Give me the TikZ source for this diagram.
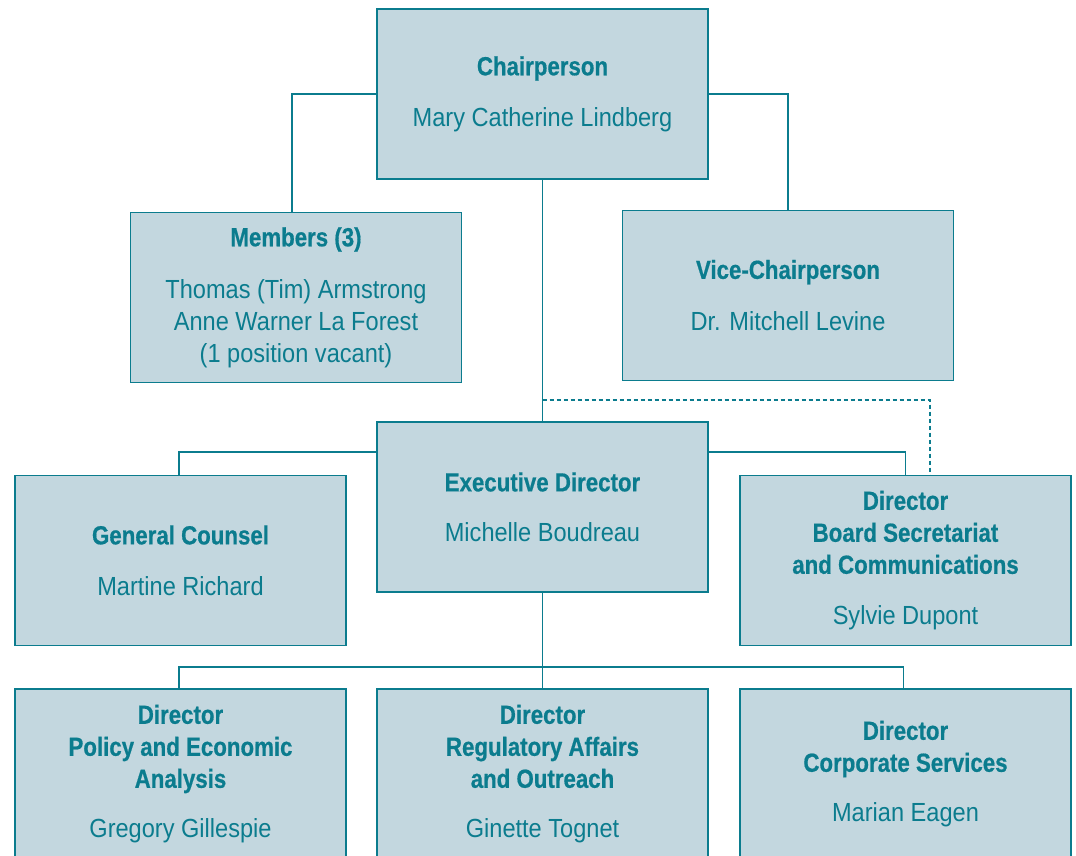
\documentclass[tikz,border=0pt]{standalone}
\usepackage{fontspec}
\setmainfont{Liberation Sans}[FakeStretch=0.9,BoldFeatures={FakeStretch=0.85,FakeBold=0.6}]
\definecolor{orgteal}{HTML}{0B7C8E}
\definecolor{orgfill}{HTML}{C3D7DF}

\begin{document}
\begin{tikzpicture}[x=1pt,y=-1pt,
    box/.style={draw=orgteal,line width=1.2pt,fill=orgfill,text=orgteal,
        minimum width=331pt,minimum height=170pt,inner sep=0pt,align=center,
        font=\fontsize{26.2}{32}\selectfont},
    link/.style={draw=orgteal,line width=1.2pt}]
        \useasboundingbox (0,0) rectangle (1076,856);
        \clip (0,0) rectangle (1076,856);

        % board
        \node[box] (chair) at (542.5,94) {\textbf{Chairperson}\\[19pt]Mary Catherine Lindberg};
        \node[box] (members) at (296,297.5) {\textbf{Members (3)}\\[20pt]Thomas (Tim) Armstrong\\Anne Warner La Forest\\(1 position vacant)};
        \node[box] (vice) at (788,295.5) {\textbf{Vice-Chairperson}\\[20pt]Dr. Mitchell Levine};

        % executive level
        \node[box] (exec) at (542.5,507) {\textbf{Executive Director}\\[18pt]Michelle Boudreau};
        \node[box] (counsel) at (180.5,560.5) {\textbf{General Counsel}\\[19pt]Martine Richard};
        \node[box] (secretariat) at (905.5,560.5) {\textbf{Director}\\\textbf{Board Secretariat}\\\textbf{and Communications}\\[19pt]Sylvie Dupont};

        % directorates
        \node[box] (policy) at (180.5,774) {\textbf{Director}\\\textbf{Policy and Economic}\\\textbf{Analysis}\\[18pt]Gregory Gillespie};
        \node[box] (regulatory) at (542.5,774) {\textbf{Director}\\\textbf{Regulatory Affairs}\\\textbf{and Outreach}\\[18pt]Ginette Tognet};
        \node[box] (corporate) at (905.5,774) {\textbf{Director}\\\textbf{Corporate Services}\\[18pt]Marian Eagen};

        \coordinate (dashstart) at (542.5,400);
        \coordinate (bus) at (542.5,667);

        \draw[link] (chair.west) -| ([xshift=-4pt]members.north);
        \draw[link] (chair.east) -| (vice.north);
        \draw[link] (chair.south) -- (exec.north);
        \draw[link,dash pattern=on 4pt off 3pt] (dashstart) -| ([xshift=24.5pt]secretariat.north);

        \draw[link] ([yshift=55pt]exec.west) -| ([xshift=-1.5pt]counsel.north);
        \draw[link] ([yshift=55pt]exec.east) -| (secretariat.north);

        \draw[link] (exec.south) -- (regulatory.north);
        \draw[link] ([xshift=-1.5pt]policy.north) |- (bus) -| ([xshift=-2pt]corporate.north);

\end{tikzpicture}
\end{document}
